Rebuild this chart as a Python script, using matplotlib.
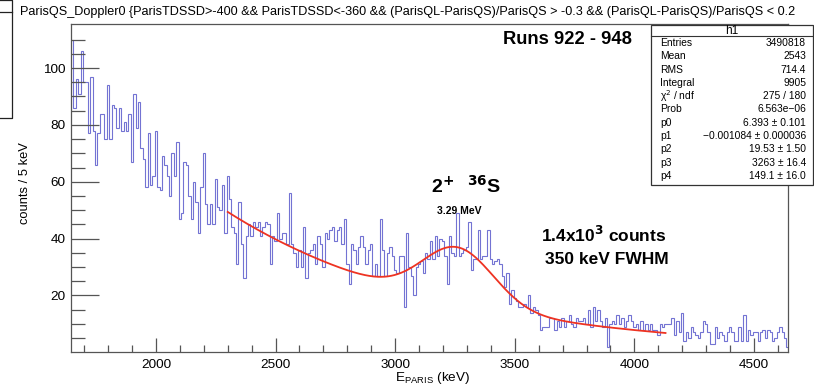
import numpy as np
import matplotlib
matplotlib.use("Agg")
import matplotlib.pyplot as plt
from matplotlib.lines import Line2D
from matplotlib.patches import Rectangle

plt.rcParams["font.family"] = ["Liberation Sans", "DejaVu Sans"]

# histogram binning (keV)
bin_start = 1645
bin_width = 10

# bin contents, 300 bins of 10 keV from 1645 keV
counts = [
    110, 86, 96, 91, 106, 95, 95, 77, 97, 78,
    66, 77, 84, 84, 75, 94, 75, 87, 86, 79,
    86, 78, 81, 78, 84, 67, 91, 79, 88, 72,
    68, 58, 77, 59, 62, 78, 58, 57, 69, 66,
    62, 55, 70, 62, 74,
    47, 49, 67, 66, 55, 47, 60, 53, 42, 58,
    70, 52, 45, 52, 45, 61, 51, 50, 59, 42,
    62, 54, 44, 42, 31, 53, 38, 26, 41, 45,
    41, 46, 44, 46, 41, 44, 46, 45, 31, 41,
    39, 49, 40, 42, 42, 38, 56,
    38, 35, 30, 36, 30, 44, 26, 35, 36, 38,
    31, 41, 38, 30, 42, 40, 43, 44, 39, 43,
    44, 38, 47, 31, 24, 38, 36, 31, 37, 41,
    37, 31, 36, 38, 27, 31, 27, 47, 36, 27,
    35, 37, 34, 29, 28, 34, 34,
    16, 42, 30, 27, 20, 30, 31, 32, 28, 35,
    33, 39, 33, 41, 34, 40, 39, 34, 24, 41,
    35, 34, 49, 34, 35, 36, 37, 46, 29, 33,
    33, 43, 33, 34, 34, 43, 33, 31, 32, 33,
    31, 27, 23, 28, 17, 22, 19, 18, 16, 16,
    17, 16, 20, 14, 16, 15, 13, 8,
    9, 9, 9, 12, 12, 8, 11, 9, 12, 9,
    11, 13, 10, 9, 12, 11, 11, 12, 10, 15,
    9, 16, 11, 15, 11, 9, 12, 2, 10, 11,
    10, 13, 10, 12, 9, 11, 13, 11, 9, 10,
    8, 11, 8, 10, 8, 10, 8, 8, 6, 10,
    9, 10, 10, 10,
    12, 6, 11, 7, 14, 4, 7, 5, 9, 7,
    6, 5, 7, 11, 10, 7, 3, 3, 9, 5,
    7, 6, 4, 7, 9, 7, 4, 4, 9, 4,
    13, 4, 8, 6, 7, 7, 4, 7, 8, 5,
    8, 7, 4, 5, 7, 9, 7, 5, 2,
]

# expo + gaus fit parameters and range
fit_p = [6.393, -0.001084, 19.53, 3263, 149.1]
fit_range = (2300, 4130)

stat_labels = ["Entries", "Mean", "RMS", "Integral", "χ$^2$ / ndf", "Prob",
               "p0", "p1", "p2", "p3", "p4"]
stat_values = ["3490818", "2543", "714.4", "9905", "275 / 180", "6.563e\u221206",
               "6.393 ± 0.101", "\u22120.001084 ± 0.000036", "19.53 ± 1.50",
               "3263 ± 16.4", "149.1 ± 16.0"]

x_major = [2000, 2500, 3000, 3500, 4000, 4500]
y_major = [20, 40, 60, 80, 100]

title = ("ParisQS_Doppler0 {ParisTDSSD>-400 && ParisTDSSD<-360 && "
         "(ParisQL-ParisQS)/ParisQS > -0.3 && (ParisQL-ParisQS)/ParisQS < 0.2")

W, H = 814, 387
fig = plt.figure(figsize=(W / 100, H / 100), dpi=100)


def fx(px):
    return px / W


def fy(py):
    return 1 - py / H


ax = fig.add_axes([fx(71), fy(352.3), fx(788 - 71), (352.3 - 24) / H])

edges = bin_start + bin_width * np.arange(len(counts) + 1)
ax.stairs(counts, edges, baseline=None, color="#5050c8", lw=0.8, alpha=0.8)

xf = np.linspace(fit_range[0], fit_range[1], 400)
yf = np.exp(fit_p[0] + fit_p[1] * xf) + fit_p[2] * np.exp(-0.5 * ((xf - fit_p[3]) / fit_p[4]) ** 2)
ax.plot(xf, yf, color="#ee3322", lw=1.3)

ax.set_xlim(1645, 4642)
ax.set_ylim(0, 115.5)

axis_col = "#555555"
for s in ax.spines.values():
    s.set_color(axis_col)
    s.set_linewidth(0.9)

ax.set_xticks(x_major)
ax.set_xticks(np.arange(1700, 4700, 100), minor=True)
ax.set_yticks(y_major)
ax.set_yticks(np.arange(5, 115, 5), minor=True)
ax.tick_params(axis="x", which="major", direction="in", length=10, width=0.9,
               color=axis_col, labelsize=9.7, pad=5)
ax.tick_params(axis="x", which="minor", direction="in", length=5, width=0.9, color=axis_col)
ax.tick_params(axis="y", which="major", direction="in", length=20, width=0.9,
               color=axis_col, labelsize=9.7, pad=4)
ax.tick_params(axis="y", which="minor", direction="in", length=10, width=0.9, color=axis_col)

# axis titles
fig.text(fx(25), fy(183), "counts / 5 keV", rotation=90, ha="center", va="center", fontsize=9.3)
fig.text(fx(395), fy(378), "E$_{\\mathregular{PARIS}}$ (keV)", ha="left", va="center", fontsize=9.7)

fig.text(fx(20), fy(12), title, ha="left", va="center", fontsize=9.1)

# annotations
fig.text(fx(503), fy(44), "Runs 922 - 948", fontsize=13.2, fontweight="bold", va="baseline")
fig.text(fx(431), fy(193), "2$^{\\mathbf{+}}$", fontsize=14, fontweight="bold", va="baseline")
fig.text(fx(467), fy(193), "$^{\\mathbf{36}}$S", fontsize=14, fontweight="bold", va="baseline")
fig.text(fx(437), fy(214), "3.29 MeV", fontsize=7.5, fontweight="bold", va="baseline")
fig.text(fx(541), fy(242), "1.4x10$^{\\mathbf{3}}$ counts", fontsize=12.5, fontweight="bold", va="baseline")
fig.text(fx(545), fy(264), "350 keV FWHM", fontsize=12.5, fontweight="bold", va="baseline")

# stats box
box_l, box_r, box_t, box_b = 651, 813, 25, 185
fig.add_artist(Rectangle((fx(box_l), fy(box_b)), fx(box_r - box_l), (box_b - box_t) / H,
                         transform=fig.transFigure, facecolor="white", edgecolor="#333333", lw=0.9))
fig.add_artist(Line2D([fx(box_l), fx(box_r)], [fy(36), fy(36)], transform=fig.transFigure,
                      color="#333333", lw=0.8))
fig.text(fx((box_l + box_r) / 2), fy(30.5), "h1", ha="center", va="center", fontsize=8.5)
for i, (lab, val) in enumerate(zip(stat_labels, stat_values)):
    yy = fy(43 + 13.3 * i)
    fig.text(fx(660), yy, lab, ha="left", va="center", fontsize=7.4)
    fig.text(fx(806), yy, val, ha="right", va="center", fontsize=7.4)

# edge of neighbouring pad
fig.add_artist(Line2D([0, fx(12), fx(12), 0], [fy(118), fy(118), fy(0), fy(0)],
                      transform=fig.transFigure, color="#222222", lw=0.9))
fig.add_artist(Line2D([0, fx(12)], [fy(11.7), fy(11.7)], transform=fig.transFigure,
                      color="#222222", lw=0.9))

fig.savefig("out.png", dpi=100)
